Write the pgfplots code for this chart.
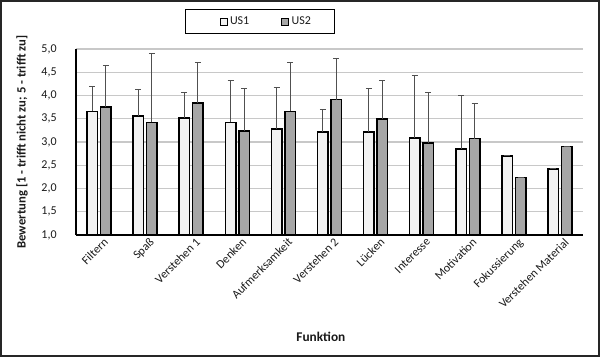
\documentclass[border=0pt]{standalone}
\usepackage{pgfplots}
\pgfplotsset{compat=1.18}
\usepackage{fontspec}
\setmainfont{Carlito}
\definecolor{cone}{HTML}{F2F2F2}
\definecolor{ctwo}{HTML}{A6A6A6}
\definecolor{cgrid}{HTML}{C8C8C8}
\definecolor{cerr}{HTML}{505050}
\definecolor{ctext}{HTML}{1A1A1A}
\begin{document}
\begin{tikzpicture}
\useasboundingbox (0,0) rectangle (450pt,267.75pt);
\draw[black!85, line width=1.2pt] (0.6pt,0.6pt) rectangle (449.4pt,267.15pt);
\begin{axis}[
  at={(57pt,91.5pt)}, anchor=south west,
  scale only axis, width=380.25pt, height=139.5pt,
  xmin=-0.5, xmax=10.5, ymin=1, ymax=5,
  ybar=2.2pt, bar width=7.9pt,
  axis x line=bottom, axis y line=left,
  axis line style={-, black, line width=1pt},
  major tick length=0pt,
  xtick={0,...,10},
  xticklabels={Filtern,Spaß,Verstehen 1,Denken,Aufmerksamkeit,Verstehen 2,Lücken,Interesse,Motivation,Fokussierung,Verstehen Material},
  ytick={1,1.5,...,5},
  ymajorgrids, grid style={cgrid, line width=0.8pt},
  /pgf/number format/assume math mode=true,
  yticklabel={\pgfmathprintnumber[fixed, fixed zerofill, precision=1, use comma]{\tick}},
  yticklabel style={font=\fontsize{9}{11}\selectfont, text=ctext, xshift=-11pt},
  xticklabel style={font=\fontsize{9}{11}\selectfont, text=ctext, rotate=45, anchor=north east, inner sep=1pt, xshift=2pt, yshift=-2pt},
  xlabel={\textbf{Funktion}},
  xlabel style={font=\fontsize{10}{12}\selectfont, text=ctext, at={(axis description cs:0.483,-0.548)}, anchor=center},
  ylabel={\textbf{Bewertung [1 - trifft nicht zu; 5 - trifft zu]}},
  ylabel style={font=\fontsize{9.5}{12}\selectfont, text=ctext, at={(axis description cs:-0.1065,0.5)}, anchor=center},
  legend style={at={(axis description cs:0.3629,1.1478)}, anchor=center, draw=black, line width=0.8pt,
    legend columns=2, font=\fontsize{9}{11}\selectfont, text=ctext,
    inner xsep=25.5pt, inner ysep=3.5pt,
    /tikz/every even column/.append style={column sep=22pt}},
  clip=false,
]
\addplot[fill=cone, draw=black, line width=1.1pt,
  error bars/.cd, y dir=plus, y explicit,
  error bar style={cerr, line width=0.75pt},
  error mark options={rotate=90, cerr, line width=0.75pt, mark size=2.25pt},
  /pgfplots/legend image code/.code={\draw[fill=cone, draw=black, line width=0.6pt] (0pt,-2.6pt) rectangle (5.2pt,2.6pt);}]
  coordinates {
  (0,3.66) +- (0,0.54)
  (1,3.56) +- (0,0.56)
  (2,3.52) +- (0,0.55)
  (3,3.42) +- (0,0.91)
  (4,3.28) +- (0,0.89)
  (5,3.22) +- (0,0.47)
  (6,3.22) +- (0,0.92)
  (7,3.09) +- (0,1.35)
  (8,2.85) +- (0,1.15)
  (9,2.70) +- (0,0)
  (10,2.42) +- (0,0)
  };
\addlegendentry{US1}
\addplot[fill=ctwo, draw=black, line width=1.1pt,
  error bars/.cd, y dir=plus, y explicit,
  error bar style={cerr, line width=0.75pt},
  error mark options={rotate=90, cerr, line width=0.75pt, mark size=2.25pt},
  /pgfplots/legend image code/.code={\draw[fill=ctwo, draw=black, line width=0.6pt] (0pt,-2.6pt) rectangle (5.2pt,2.6pt);}]
  coordinates {
  (0,3.75) +- (0,0.90)
  (1,3.42) +- (0,1.48)
  (2,3.84) +- (0,0.87)
  (3,3.24) +- (0,0.92)
  (4,3.66) +- (0,1.04)
  (5,3.91) +- (0,0.89)
  (6,3.49) +- (0,0.83)
  (7,2.98) +- (0,1.08)
  (8,3.07) +- (0,0.76)
  (9,2.24) +- (0,0)
  (10,2.90) +- (0,0)
  };
\addlegendentry{US2\hspace*{-10pt}}
\end{axis}
\end{tikzpicture}
\end{document}
